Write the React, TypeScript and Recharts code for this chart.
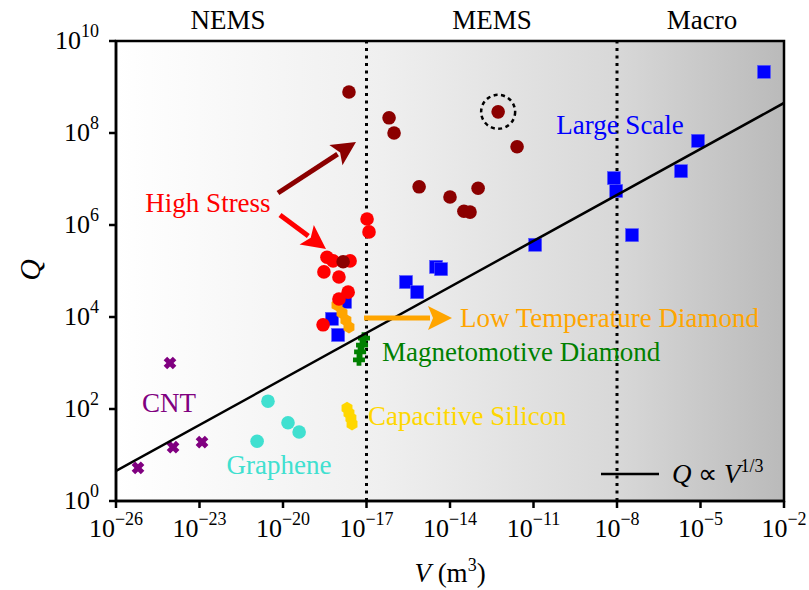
import React from 'react'
import {
  ScatterChart,
  Scatter,
  XAxis,
  YAxis,
  ReferenceLine,
  ReferenceArea,
  ReferenceDot,
} from 'recharts'

// values are read as exponents (log10) off the picture
const largeScaleLogV = [-2.72, -5.09, -5.7, -8.11, -8.03, -7.46, -10.94, -14.5, -14.32, -15.58, -15.18, -17.77, -18.24, -18.02]
const largeScaleLogQ = [9.33, 7.83, 7.17, 7.02, 6.74, 5.78, 5.57, 5.09, 5.04, 4.76, 4.54, 4.33, 3.96, 3.61]

const highStressDarkLogV = [-17.63, -16.19, -16.01, -12.27, -11.59, -15.11, -14.0, -12.99, -13.5, -13.28, -17.84]
const highStressDarkLogQ = [8.89, 8.33, 8.0, 8.46, 7.7, 6.83, 6.61, 6.8, 6.3, 6.28, 5.2]

const highStressLogV = [-16.98, -16.91, -18.42, -18.2, -17.59, -18.53, -17.99, -17.66, -17.99, -18.56]
const highStressLogQ = [6.13, 5.85, 5.3, 5.22, 5.22, 4.98, 4.87, 4.54, 4.39, 3.83]

const lowTempLogV = [-18.06, -17.88, -17.74, -17.63]
const lowTempLogQ = [4.26, 4.09, 3.93, 3.78]

const magnetoLogV = [-17.09, -17.16, -17.23, -17.27]
const magnetoLogQ = [3.54, 3.39, 3.24, 3.07]

const capacitiveLogV = [-17.7, -17.63, -17.56, -17.52]
const capacitiveLogQ = [2.02, 1.91, 1.8, 1.67]

const grapheneLogV = [-20.54, -19.82, -19.42, -20.93]
const grapheneLogQ = [2.17, 1.7, 1.5, 1.3]

const cntLogV = [-24.06, -23.95, -22.91, -25.21]
const cntLogQ = [3.0, 1.17, 1.28, 0.72]

// Q ∝ V^(1/3) guide line end points
const fitV = [1e-26, 1e-2]
const fitQ = [4.5, 4.5e8]

const circledLogV = -12.27
const circledLogQ = 8.46

const xTickExp = [-26, -23, -20, -17, -14, -11, -8, -5, -2]
const yTickExp = [0, 2, 4, 6, 8, 10]
const regionBounds = [1e-17, 1e-8]
const regionNames = ['NEMS', 'MEMS', 'Macro']

const xTicks = xTickExp.map((e) => Math.pow(10, e))
const yTicks = yTickExp.map((e) => Math.pow(10, e))

const toPoints = (lv: number[], lq: number[]) =>
  lv.map((v, i) => ({ v: Math.pow(10, v), q: Math.pow(10, lq[i]) }))

const FONT = '"Liberation Serif", "Times New Roman", serif'

const fmtExp = (e: number) => (e < 0 ? '\u2212' + Math.abs(e) : String(e))

const XTick = (props: any) => {
  const { x, y, payload } = props
  const e = Math.round(Math.log10(payload.value))
  return (
    <text x={x} y={y + 27} textAnchor="middle" fontFamily={FONT} fontSize={26} fill="#000">
      <tspan>10</tspan>
      <tspan dy={-12} fontSize={18}>{fmtExp(e)}</tspan>
    </text>
  )
}

const YTick = (props: any) => {
  const { x, y, payload } = props
  const e = Math.round(Math.log10(payload.value))
  return (
    <text x={x - 8} y={y + 8} textAnchor="end" fontFamily={FONT} fontSize={26} fill="#000">
      <tspan>10</tspan>
      <tspan dy={-12} fontSize={18}>{e}</tspan>
    </text>
  )
}

const circleShape = (fill: string) => (p: any) => <circle cx={p.cx} cy={p.cy} r={6.8} fill={fill} />
const squareShape = (fill: string) => (p: any) => (
  <rect x={p.cx - 6.5} y={p.cy - 6.5} width={13} height={13} fill={fill} stroke="#5a5aff" strokeWidth={0.6} />
)
const plusPath = (cx: number, cy: number, s: number, w: number) =>
  `M${cx - w},${cy - s}H${cx + w}V${cy - w}H${cx + s}V${cy + w}H${cx + w}V${cy + s}H${cx - w}V${cy + w}H${cx - s}V${cy - w}H${cx - w}Z`
const plusShape = (fill: string) => (p: any) => <path d={plusPath(p.cx, p.cy, 6, 2.4)} fill={fill} />
const xShape = (fill: string) => (p: any) => (
  <path d={plusPath(p.cx, p.cy, 6.5, 2.5)} fill={fill} transform={`rotate(45 ${p.cx} ${p.cy})`} />
)
const hexShape = (fill: string) => (p: any) => {
  const pts = [0, 1, 2, 3, 4, 5]
    .map((k) => {
      const a = (Math.PI / 3) * k + Math.PI / 2
      return `${p.cx + 6.3 * Math.cos(a)},${p.cy + 6.3 * Math.sin(a)}`
    })
    .join(' ')
  return <polygon points={pts} fill={fill} />
}

const Arrow = ({ x1, y1, x2, y2, color, w = 5, hl = 24, hw = 12 }: any) => {
  const dx = x2 - x1
  const dy = y2 - y1
  const len = Math.sqrt(dx * dx + dy * dy)
  const ux = dx / len
  const uy = dy / len
  const bx = x2 - ux * hl
  const by = y2 - uy * hl
  const px = -uy
  const py = ux
  return (
    <g>
      <line x1={x1} y1={y1} x2={bx + ux * 2} y2={by + uy * 2} stroke={color} strokeWidth={w} />
      <polygon
        points={`${x2},${y2} ${bx + px * hw},${by + py * hw} ${bx + ux * 5},${by + uy * 5} ${bx - px * hw},${by - py * hw}`}
        fill={color}
      />
    </g>
  )
}

export default function App() {
  return (
    <div style={{ position: 'relative', width: 809, height: 590, background: '#fff' }}>
      <style>{'body{margin:0}'}</style>
      <ScatterChart
        width={809}
        height={590}
        margin={{ top: 41, right: 25, bottom: 39, left: 56 }}
      >
        <defs>
          <linearGradient id="bgGrad" x1="0" y1="0" x2="1" y2="0">
            <stop offset="0%" stopColor="#ffffff" />
            <stop offset="40%" stopColor="#efefef" />
            <stop offset="75%" stopColor="#d8d8d8" />
            <stop offset="100%" stopColor="#bababa" />
          </linearGradient>
        </defs>
        <XAxis
          type="number"
          dataKey="v"
          scale="log"
          domain={[1e-26, 1e-2]}
          ticks={xTicks}
          allowDataOverflow
          height={50}
          tick={<XTick />}
          tickSize={7}
          tickLine={{ stroke: '#000', strokeWidth: 2.5 }}
          axisLine={{ stroke: '#000', strokeWidth: 2.5 }}
          interval={0}
        />
        <YAxis
          type="number"
          dataKey="q"
          scale="log"
          domain={[1, 1e10]}
          ticks={yTicks}
          allowDataOverflow
          width={60}
          tick={<YTick />}
          tickSize={7}
          tickLine={{ stroke: '#000', strokeWidth: 2.5 }}
          axisLine={{ stroke: '#000', strokeWidth: 2.5 }}
          interval={0}
        />
        <ReferenceArea
          x1={1e-26}
          x2={1e-2}
          y1={1}
          y2={1e10}
          fill="url(#bgGrad)"
          fillOpacity={1}
          stroke="#000"
          strokeWidth={2.5}
          ifOverflow="visible"
        />
        {regionBounds.map((b) => (
          <ReferenceLine key={b} x={b} stroke="#000" strokeWidth={3} strokeDasharray="3 4.5" />
        ))}
        <Scatter
          data={toPoints(cntLogV, cntLogQ)}
          fill="#800080"
          shape={xShape('#800080')}
          isAnimationActive={false}
        />
        <Scatter
          data={toPoints(grapheneLogV, grapheneLogQ)}
          fill="#40E0D0"
          shape={circleShape('#40E0D0')}
          isAnimationActive={false}
        />
        <Scatter
          data={toPoints(capacitiveLogV, capacitiveLogQ)}
          fill="#FFD700"
          shape={hexShape('#FFD700')}
          isAnimationActive={false}
        />
        <Scatter
          data={toPoints(magnetoLogV, magnetoLogQ)}
          fill="#008000"
          shape={plusShape('#008000')}
          isAnimationActive={false}
        />
        <Scatter
          data={toPoints(largeScaleLogV, largeScaleLogQ)}
          fill="#0000FF"
          shape={squareShape('#0000FF')}
          isAnimationActive={false}
        />
        <Scatter
          data={toPoints(lowTempLogV, lowTempLogQ)}
          fill="#FFA500"
          shape={hexShape('#FFA500')}
          isAnimationActive={false}
        />
        <Scatter
          data={toPoints(highStressLogV, highStressLogQ)}
          fill="#FF0000"
          shape={circleShape('#FF0000')}
          isAnimationActive={false}
        />
        <Scatter
          data={toPoints(highStressDarkLogV, highStressDarkLogQ)}
          fill="#8B0000"
          shape={circleShape('#8B0000')}
          isAnimationActive={false}
        />
        <Scatter
          data={fitV.map((v, i) => ({ v, q: fitQ[i] }))}
          line={{ stroke: '#000', strokeWidth: 2.5 }}
          shape={() => <g />}
          isAnimationActive={false}
        />
        <ReferenceDot
          x={Math.pow(10, circledLogV)}
          y={Math.pow(10, circledLogQ)}
          r={17}
          fill="none"
          stroke="#000"
          strokeWidth={2.5}
          strokeDasharray="4 3.5"
        />
      </ScatterChart>

      {/* annotations, drawn on top of the chart */}
      <svg
        width={809}
        height={590}
        style={{ position: 'absolute', left: 0, top: 0, pointerEvents: 'none' }}
      >
        <g fontFamily={FONT} fontSize={27}>
          <text x={228} y={29} textAnchor="middle" fill="#000">{regionNames[0]}</text>
          <text x={492} y={29} textAnchor="middle" fill="#000">{regionNames[1]}</text>
          <text x={702} y={29} textAnchor="middle" fill="#000">{regionNames[2]}</text>

          <text x={208} y={212} textAnchor="middle" fill="#FF0000">High Stress</text>
          <text x={620} y={134} textAnchor="middle" fill="#0000FF">Large Scale</text>
          <text x={460} y={327} fill="#FFA500">Low Temperature Diamond</text>
          <text x={382} y={361} fill="#008000">Magnetomotive Diamond</text>
          <text x={368} y={425} fill="#FFD700">Capacitive Silicon</text>
          <text x={279} y={474} textAnchor="middle" fill="#40E0D0">Graphene</text>
          <text x={169} y={412} textAnchor="middle" fill="#800080">CNT</text>

          <Arrow x1={278} y1={193} x2={356} y2={142} color="#8B0000" />
          <Arrow x1={280} y1={215} x2={326} y2={249} color="#FF0000" />
          <Arrow x1={364} y1={318} x2={452} y2={318} color="#FFA500" />

          <line x1={601} y1={474} x2={659} y2={474} stroke="#000" strokeWidth={2.5} />
          <text x={672} y={483} fill="#000">
            <tspan fontStyle="italic">Q</tspan>
            <tspan> ∝ </tspan>
            <tspan fontStyle="italic">V</tspan>
            <tspan dy={-11} fontSize={18}>1/3</tspan>
          </text>

          <text x={450} y={582} textAnchor="middle" fill="#000">
            <tspan fontStyle="italic">V</tspan>
            <tspan> (m</tspan>
            <tspan dy={-11} fontSize={18}>3</tspan>
            <tspan dy={11}>)</tspan>
          </text>
          <text
            x={40}
            y={270}
            textAnchor="middle"
            fontStyle="italic"
            fontSize={30}
            fill="#000"
            transform="rotate(-90 40 270)"
          >
            Q
          </text>
        </g>
      </svg>
    </div>
  )
}
